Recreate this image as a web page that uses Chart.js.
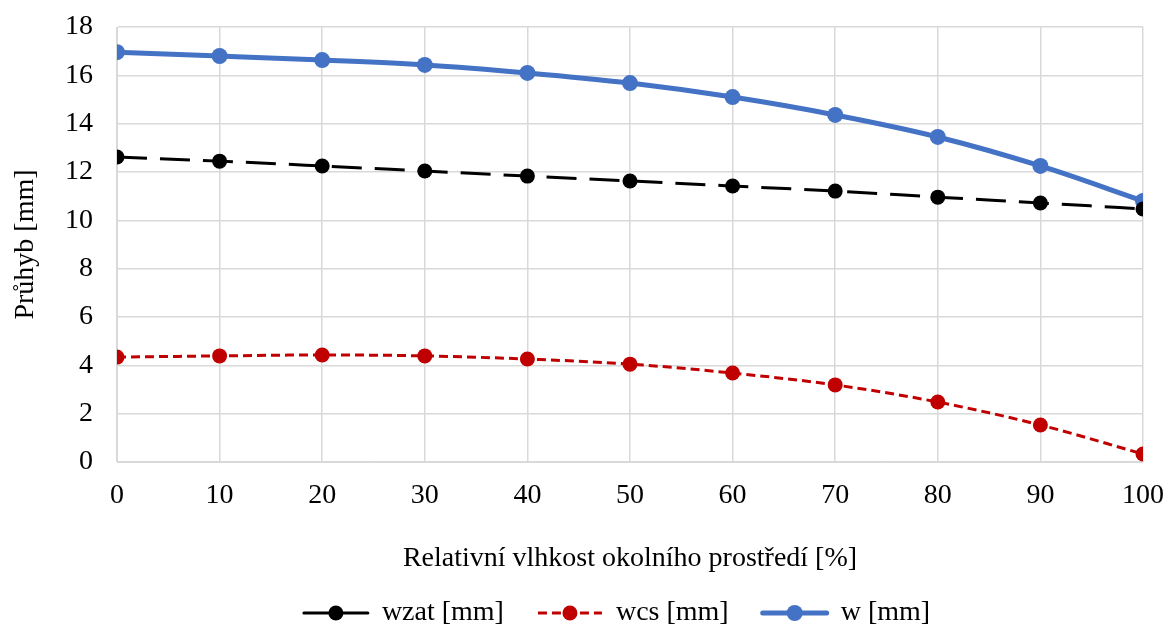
<!DOCTYPE html>
<html>
<head>
<meta charset="utf-8">
<script src="https://cdn.jsdelivr.net/npm/chart.js@4.4.1/dist/chart.umd.min.js"></script>
<style>
  html, body { margin: 0; padding: 0; background: #fff; }
  #wrap { width: 1166px; height: 632px; }
</style>
</head>
<body>
<div id="wrap"><canvas id="graf" width="1166" height="632"></canvas></div>
<script>
const vlhkost = [0, 10, 20, 30, 40, 50, 60, 70, 80, 90, 100];
const wzat = [12.62, 12.45, 12.25, 12.04, 11.83, 11.63, 11.42, 11.21, 10.96, 10.72, 10.47];
const wcs = [4.34, 4.39, 4.43, 4.39, 4.26, 4.05, 3.68, 3.19, 2.48, 1.53, 0.33];
const w = [16.96, 16.8, 16.63, 16.43, 16.1, 15.68, 15.1, 14.36, 13.45, 12.25, 10.8];

const font = 'Liberation Serif';
const vel = 28;

const serie = [
    { label: 'wzat [mm]', data: wzat, color: '#000000', width: 3, dash: [30, 13], legDash: [], r: 7.5 },
    { label: 'wcs [mm]', data: wcs, color: '#c00000', width: 3, dash: [9, 5], legDash: [9, 5], r: 7.5 },
    { label: 'w [mm]', data: w, color: '#4472c4', width: 5, dash: [], legDash: [], r: 8 }
];

const datasets = serie.map(s => ({
    label: s.label,
    data: s.data.map((v, i) => ({ x: vlhkost[i], y: v })),
    borderColor: s.color,
    backgroundColor: s.color,
    borderWidth: s.width,
    borderDash: s.dash,
    pointRadius: s.r,
    pointBorderWidth: 0,
    pointBackgroundColor: s.color,
    cubicInterpolationMode: 'monotone'
}));

// legenda kreslena rucne (cara + bod + text)
const legenda = {
    id: 'legenda',
    afterDraw(chart) {
        const ctx = chart.ctx;
        const y = 613;
        const delkaCary = 64, mezera = 14, rozestup = 34;
        ctx.save();
        ctx.font = vel + 'px "' + font + '"';
        const sirky = serie.map(s => ctx.measureText(s.label).width);
        const celkem = sirky.reduce((a, b) => a + b, 0) + serie.length * (delkaCary + mezera) + rozestup * (serie.length - 1);
        let x = 617 - celkem / 2;
        serie.forEach((s, i) => {
            ctx.strokeStyle = s.color;
            ctx.fillStyle = s.color;
            ctx.lineWidth = s.width;
            ctx.setLineDash(s.legDash);
            ctx.lineCap = s.legDash.length ? 'butt' : 'round';
            ctx.beginPath();
            ctx.moveTo(x, y);
            ctx.lineTo(x + delkaCary, y);
            ctx.stroke();
            ctx.setLineDash([]);
            ctx.beginPath();
            ctx.arc(x + delkaCary / 2, y, s.r, 0, Math.PI * 2);
            ctx.fill();
            x += delkaCary + mezera;
            ctx.fillStyle = '#000';
            ctx.textBaseline = 'middle';
            ctx.fillText(s.label, x, y);
            x += sirky[i] + rozestup;
        });
        ctx.restore();
    }
};

const grafico = new Chart(document.getElementById('graf'), {
    type: 'line',
    data: { datasets },
    plugins: [legenda],
    options: {
        responsive: false,
        animation: false,
        layout: { padding: { top: 27, right: 23, left: 0, bottom: 0 } },
        plugins: {
            tooltip: { enabled: false },
            legend: { display: false }
        },
        scales: {
            x: {
                type: 'linear',
                min: 0, max: 100,
                afterFit: s => { s.height = 170; s.paddingLeft = 0; s.paddingRight = 0; },
                ticks: { stepSize: 10, color: '#000', font: { family: font, size: vel }, padding: 17 },
                grid: { color: '#d9d9d9', lineWidth: 1.5, drawTicks: false },
                border: { color: '#d9d9d9' },
                title: {
                    display: true,
                    text: 'Relativní vlhkost okolního prostředí [%]',
                    color: '#000',
                    font: { family: font, size: vel },
                    padding: { top: 0, bottom: 57 }
                }
            },
            y: {
                min: 0, max: 18,
                afterFit: s => { s.width = 117; s.paddingTop = 0; s.paddingBottom = 0; },
                ticks: { stepSize: 2, color: '#000', font: { family: font, size: vel }, padding: 24 },
                grid: { color: '#d9d9d9', lineWidth: 1.5, drawTicks: false },
                border: { color: '#d9d9d9' },
                title: {
                    display: true,
                    text: 'Průhyb [mm]',
                    color: '#000',
                    font: { family: font, size: vel },
                    padding: { top: 9, bottom: 0 }
                }
            }
        }
    }
});
</script>
</body>
</html>
